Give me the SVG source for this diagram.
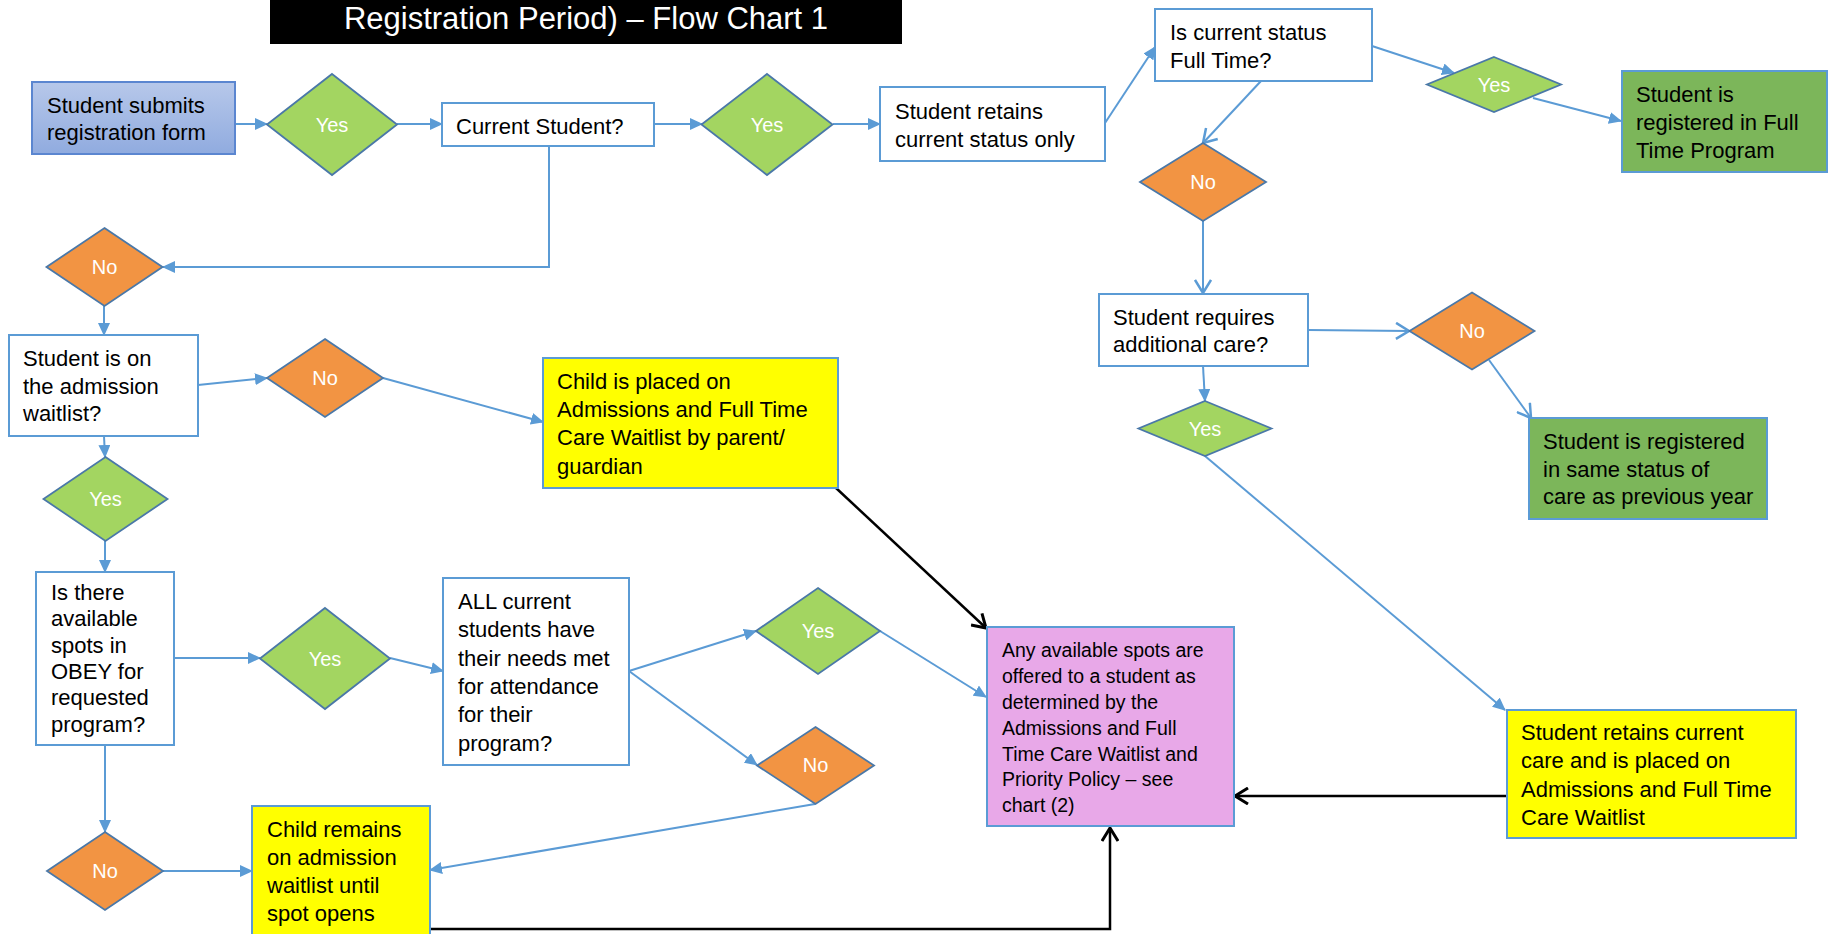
<svg xmlns="http://www.w3.org/2000/svg" width="1829" height="934" viewBox="0 0 1829 934">
<defs>
<linearGradient id="gb" x1="0" y1="0" x2="0" y2="1"><stop offset="0" stop-color="#b7c8ea"/><stop offset="1" stop-color="#90abdf"/></linearGradient>
<marker id="af" markerUnits="userSpaceOnUse" markerWidth="13" markerHeight="12" viewBox="0 0 13 12" refX="12" refY="6" orient="auto"><path d="M0,0 L13,6 L0,12 z" fill="#5b9bd5"/></marker>
<marker id="av" markerUnits="userSpaceOnUse" markerWidth="16" markerHeight="18" viewBox="0 0 16 18" refX="14" refY="9" orient="auto"><path d="M1,1 L14,9 L1,17" fill="none" stroke="#5b9bd5" stroke-width="2.5"/></marker>
<marker id="ak" markerUnits="userSpaceOnUse" markerWidth="16" markerHeight="18" viewBox="0 0 16 18" refX="14" refY="9" orient="auto"><path d="M1,1 L14,9 L1,17" fill="none" stroke="#000" stroke-width="3"/></marker>
</defs>
<style>
.t{font-family:"Liberation Sans",Arial,sans-serif;font-size:22px;fill:#000}
.tp{font-family:"Liberation Sans",Arial,sans-serif;font-size:19.5px;fill:#000}
.d{font-family:"Liberation Sans",Arial,sans-serif;font-size:20px;fill:#fff;text-anchor:middle}
.bx{fill:#fff;stroke:#5b9bd5;stroke-width:2}
.yl{fill:#ffff00;stroke:#5b9bd5;stroke-width:2}
.gr{fill:#7cb65a;stroke:#5b9bd5;stroke-width:2}
.pk{fill:#e8a8e8;stroke:#5b9bd5;stroke-width:2}
.dy{fill:#a3d561;stroke:#4a78a8;stroke-width:1.8}
.dn{fill:#f29443;stroke:#4a78a8;stroke-width:1.8}
.c{fill:none;stroke:#5b9bd5;stroke-width:2}
.k{fill:none;stroke:#000;stroke-width:2.5}
</style>
<rect width="1829" height="934" fill="#fff"/>
<g id="title">
<rect x="270" y="0" width="632" height="44" fill="#000"/>
<text x="586" y="29" font-family="'Liberation Sans',Arial,sans-serif" font-size="31" fill="#fff" text-anchor="middle">Registration Period) – Flow Chart 1</text>
</g>
<g id="connectors">
<line class="c" x1="235" y1="124" x2="267" y2="124" marker-end="url(#af)"/>
<line class="c" x1="397" y1="124" x2="442" y2="124" marker-end="url(#af)"/>
<line class="c" x1="654" y1="124" x2="702" y2="124" marker-end="url(#af)"/>
<line class="c" x1="833" y1="124" x2="880" y2="124" marker-end="url(#af)"/>
<line class="c" x1="1105" y1="123" x2="1155" y2="47" marker-end="url(#af)"/>
<line class="c" x1="1372" y1="46" x2="1454" y2="73" marker-end="url(#af)"/>
<line class="c" x1="1533" y1="98" x2="1621" y2="121" marker-end="url(#af)"/>
<line class="c" x1="1261" y1="81" x2="1203" y2="143" marker-end="url(#av)"/>
<line class="c" x1="1203" y1="221" x2="1203" y2="293" marker-end="url(#av)"/>
<line class="c" x1="1308" y1="330" x2="1409" y2="331" marker-end="url(#av)"/>
<line class="c" x1="1489" y1="360" x2="1531" y2="418" marker-end="url(#av)"/>
<line class="c" x1="1203" y1="366" x2="1205" y2="401" marker-end="url(#af)"/>
<line class="c" x1="1205" y1="456" x2="1505" y2="710" marker-end="url(#af)"/>
<polyline class="c" points="549,146 549,267 163,267" marker-end="url(#af)"/>
<line class="c" x1="104" y1="306" x2="104" y2="335" marker-end="url(#af)"/>
<line class="c" x1="198" y1="385" x2="267" y2="378" marker-end="url(#af)"/>
<line class="c" x1="383" y1="378" x2="543" y2="422" marker-end="url(#af)"/>
<line class="c" x1="104" y1="436" x2="105" y2="457" marker-end="url(#af)"/>
<line class="c" x1="105" y1="541" x2="105" y2="572" marker-end="url(#af)"/>
<line class="c" x1="174" y1="658" x2="260" y2="658" marker-end="url(#af)"/>
<line class="c" x1="390" y1="658" x2="443" y2="671" marker-end="url(#af)"/>
<line class="c" x1="629" y1="671" x2="756" y2="631" marker-end="url(#af)"/>
<line class="c" x1="629" y1="671" x2="757" y2="765" marker-end="url(#af)"/>
<line class="c" x1="880" y1="631" x2="986" y2="697" marker-end="url(#af)"/>
<line class="c" x1="815" y1="804" x2="430" y2="870" marker-end="url(#af)"/>
<line class="c" x1="105" y1="745" x2="105" y2="832" marker-end="url(#af)"/>
<line class="c" x1="163" y1="871" x2="252" y2="871" marker-end="url(#af)"/>
<line class="k" x1="836" y1="488" x2="986" y2="628" marker-end="url(#ak)"/>
<polyline class="k" points="430,929 1110,929 1110,828" marker-end="url(#ak)"/>
<line class="k" x1="1507" y1="796" x2="1235" y2="796" marker-end="url(#ak)"/>
</g>
<g id="n-submit"><rect x="32" y="82" width="203" height="72" fill="url(#gb)" stroke="#5b86d0" stroke-width="2"/><text class="t" x="47" y="113">Student submits</text><text class="t" x="47" y="140">registration form</text></g>
<g id="d-yes1"><polygon class="dy" points="332,74 397,124.5 332,175 267,124.5"/><text class="d" x="332" y="132">Yes</text></g>
<g id="n-current"><rect class="bx" x="442" y="103" width="212" height="43"/><text class="t" x="456" y="134">Current Student?</text></g>
<g id="d-yes2"><polygon class="dy" points="767,74 832.5,124.5 767,175 701.5,124.5"/><text class="d" x="767" y="132">Yes</text></g>
<g id="n-retains"><rect class="bx" x="880" y="87" width="225" height="74"/><text class="t" x="895" y="119">Student retains</text><text class="t" x="895" y="147">current status only</text></g>
<g id="n-fulltime"><rect class="bx" x="1155" y="9" width="217" height="72"/><text class="t" x="1170" y="40">Is current status</text><text class="t" x="1170" y="68">Full Time?</text></g>
<g id="d-yes3"><polygon class="dy" points="1494,57 1561,84.5 1494,112 1427,84.5"/><text class="d" x="1494" y="92">Yes</text></g>
<g id="n-regft"><rect class="gr" x="1622" y="71" width="205" height="101"/><text class="t" x="1636" y="102">Student is</text><text class="t" x="1636" y="130">registered in Full</text><text class="t" x="1636" y="158">Time Program</text></g>
<g id="d-no2"><polygon class="dn" points="1203,143 1266,182 1203,221 1140,182"/><text class="d" x="1203" y="189">No</text></g>
<g id="n-addcare"><rect class="bx" x="1099" y="294" width="209" height="72"/><text class="t" x="1113" y="325">Student requires</text><text class="t" x="1113" y="352">additional care?</text></g>
<g id="d-no3"><polygon class="dn" points="1472,292.5 1534.5,331 1472,369.5 1409.5,331"/><text class="d" x="1472" y="338">No</text></g>
<g id="n-samestatus"><rect class="gr" x="1529" y="418" width="238" height="101"/><text class="t" x="1543" y="449">Student is registered</text><text class="t" x="1543" y="477">in same status of</text><text class="t" x="1543" y="504">care as previous year</text></g>
<g id="d-yes4"><polygon class="dy" points="1205,401 1271.5,428.5 1205,456 1138.5,428.5"/><text class="d" x="1205" y="436">Yes</text></g>
<g id="n-retaincare"><rect class="yl" x="1507" y="710" width="289" height="128"/><text class="t" x="1521" y="740">Student retains current</text><text class="t" x="1521" y="768">care and is placed on</text><text class="t" x="1521" y="797">Admissions and Full Time</text><text class="t" x="1521" y="825">Care Waitlist</text></g>
<g id="n-offered"><rect class="pk" x="987" y="627" width="247" height="199"/><text class="tp" x="1002" y="657">Any available spots are</text><text class="tp" x="1002" y="683">offered to a student as</text><text class="tp" x="1002" y="709">determined by the</text><text class="tp" x="1002" y="735">Admissions and Full</text><text class="tp" x="1002" y="761">Time Care Waitlist and</text><text class="tp" x="1002" y="786">Priority Policy – see</text><text class="tp" x="1002" y="812">chart (2)</text></g>
<g id="d-no1"><polygon class="dn" points="104.5,228 162.5,267 104.5,306 46.5,267"/><text class="d" x="104.5" y="274">No</text></g>
<g id="n-onwaitlist"><rect class="bx" x="9" y="335" width="189" height="101"/><text class="t" x="23" y="366">Student is on</text><text class="t" x="23" y="394">the admission</text><text class="t" x="23" y="421">waitlist?</text></g>
<g id="d-no4"><polygon class="dn" points="325,339 383,378 325,417 267,378"/><text class="d" x="325" y="385">No</text></g>
<g id="n-placed"><rect class="yl" x="543" y="358" width="295" height="130"/><text class="t" x="557" y="389">Child is placed on</text><text class="t" x="557" y="417">Admissions and Full Time</text><text class="t" x="557" y="445">Care Waitlist by parent/</text><text class="t" x="557" y="474">guardian</text></g>
<g id="d-yes5"><polygon class="dy" points="105.5,457 167.5,499 105.5,541 43.5,499"/><text class="d" x="105.5" y="506">Yes</text></g>
<g id="n-spots"><rect class="bx" x="36" y="572" width="138" height="173"/><text class="t" x="51" y="600">Is there</text><text class="t" x="51" y="626">available</text><text class="t" x="51" y="653">spots in</text><text class="t" x="51" y="679">OBEY for</text><text class="t" x="51" y="705">requested</text><text class="t" x="51" y="732">program?</text></g>
<g id="d-yes6"><polygon class="dy" points="325,608 390,658.5 325,709 260,658.5"/><text class="d" x="325" y="666">Yes</text></g>
<g id="n-needs"><rect class="bx" x="443" y="578" width="186" height="187"/><text class="t" x="458" y="609">ALL current</text><text class="t" x="458" y="637">students have</text><text class="t" x="458" y="666">their needs met</text><text class="t" x="458" y="694">for attendance</text><text class="t" x="458" y="722">for their</text><text class="t" x="458" y="751">program?</text></g>
<g id="d-yes7"><polygon class="dy" points="818,588 880,631 818,674 756,631"/><text class="d" x="818" y="638">Yes</text></g>
<g id="d-no5"><polygon class="dn" points="815.5,727 874,765.5 815.5,804 757,765.5"/><text class="d" x="815.5" y="772">No</text></g>
<g id="d-no6"><polygon class="dn" points="105,832 163,871 105,910 47,871"/><text class="d" x="105" y="878">No</text></g>
<g id="n-remains"><rect class="yl" x="252" y="806" width="178" height="140"/><text class="t" x="267" y="837">Child remains</text><text class="t" x="267" y="865">on admission</text><text class="t" x="267" y="893">waitlist until</text><text class="t" x="267" y="921">spot opens</text></g>
</svg>
